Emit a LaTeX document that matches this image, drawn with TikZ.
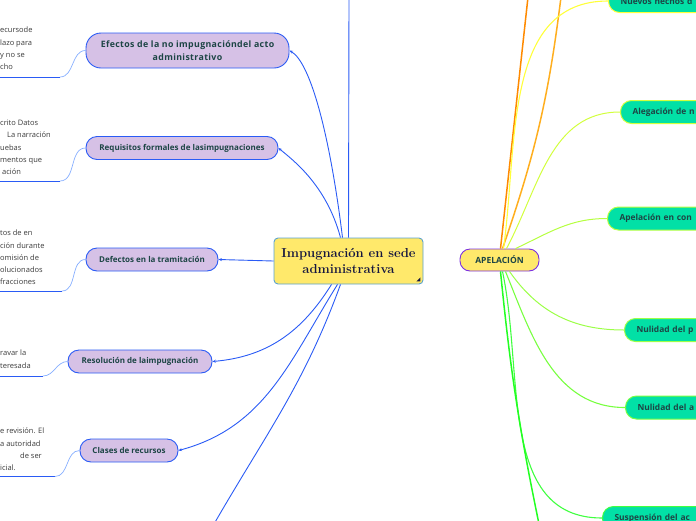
\documentclass[tikz,border=0pt]{standalone}
\usepackage{fontspec}
\newfontfamily\osans{Open Sans}
\newfontfamily\osanswide[LetterSpace=4]{Open Sans}
\usepackage{tikz}
\usetikzlibrary{arrows.meta,positioning}
\definecolor{rootfill}{HTML}{FFE96B}
\definecolor{rootline}{HTML}{5AA2CF}
\definecolor{rootink}{HTML}{15163F}
\definecolor{topicfill}{HTML}{D6C1E6}
\definecolor{linkblue}{HTML}{2A5BF5}
\definecolor{softblue}{HTML}{86AEFF}
\definecolor{inkteal}{HTML}{1D4545}
\definecolor{noteink}{HTML}{3A3A3A}
\definecolor{apeline}{HTML}{7B2FE0}
\definecolor{leaffill}{HTML}{02E0A6}
\definecolor{orangeA}{HTML}{FF8A00}
\definecolor{orangeB}{HTML}{FFAE1E}
\definecolor{yellowA}{HTML}{FFFF3A}
\definecolor{limeA}{HTML}{D2FF3C}
\definecolor{limeB}{HTML}{B6FF40}
\definecolor{greenA}{HTML}{9CFF48}
\definecolor{greenB}{HTML}{78FF40}
\definecolor{greenC}{HTML}{40FF40}
\definecolor{greenD}{HTML}{22FF22}

\begin{document}
\begin{tikzpicture}[x=1pt, y=-1pt,
  root/.style={draw=rootline, fill=rootfill, line width=0.9pt, rounded corners=4pt,
    minimum width=149pt, minimum height=46pt, align=center, text=rootink,
    font=\bfseries\fontsize{13}{16}\selectfont},
  topic/.style={draw=linkblue, fill=topicfill, line width=0.9pt, rounded corners=11pt,
    minimum height=23pt, align=center, text=inkteal, font=\osans\bfseries\fontsize{8}{11}\selectfont},
  apel/.style={draw=apeline, fill=rootfill, line width=0.9pt, rounded corners=10pt,
    minimum width=79pt, minimum height=22pt, text=inkteal, font=\osans\bfseries\fontsize{8.5}{9}\selectfont},
  leaf/.style={fill=leaffill, line width=1pt, rounded corners=11pt, minimum height=23pt,
    anchor=west, text width=110pt, inner xsep=12pt, align=left, text=inkteal,
    font=\osans\bfseries\fontsize{8.4}{9}\selectfont},
  note/.style={anchor=north west, inner sep=0pt, align=left, text=noteink,
    font=\osans\fontsize{7.5}{12.2}\selectfont},
  link/.style={draw=linkblue, line width=0.9pt},
  tip/.style={-{Stealth[length=3.5pt,width=3pt]}},
  uline/.style={draw=linkblue, line width=1pt},
  twig/.style={draw=softblue, line width=0.7pt},
  stem/.style={line width=1.5pt},
  ]
\useasboundingbox (0,0) rectangle (696,520);
\clip (0,0) rectangle (696,520);

% central topic
\node[root] (impug) at (348.5,261) {Impugnación en sede\\administrativa};
\fill[rootink] ([shift={(-3,-3)}]impug.south east) -- ++(-4,0) -- ++(4,-4) -- cycle;

% left branches
\node[topic, minimum width=203pt, minimum height=35pt, rounded corners=15pt, font=\osanswide\bfseries\fontsize{8.8}{13}\selectfont]
  (efectos) at (187.5,50.5) {Efectos de la no impugnacióndel acto\\administrativo};
\node[topic, minimum width=192pt] (requisitos) at (182,148) {Requisitos formales de lasimpugnaciones};
\node[topic, minimum width=132pt] (defectos) at (152,259.5) {Defectos en la tramitación};
\node[topic, minimum width=144pt] (resolucion) at (140,361.5) {Resolución de laimpugnación};
\node[topic, minimum width=98pt] (clases) at (129,450.5) {Clases de recursos};

\coordinate (upnode) at (349,-5);
\coordinate (downnode) at (214,524);

\draw[link, tip] ([xshift=-6]impug.north) to[out=97, in=-30, out distance=100pt, in distance=25pt] (efectos.east);
\draw[link, tip] ([xshift=-8]impug.north) to[out=105, in=-40, out distance=55pt, in distance=18pt] (requisitos.east);
\draw[link] (impug.north) -- (upnode);
\draw[link, tip] (impug.west) -- (defectos.east);
\draw[link, tip] ([xshift=-17]impug.south) to[out=-122, in=5] (resolucion.east);
\draw[link, tip] ([xshift=-11]impug.south) to[out=-122, in=15] (clases.east);
\draw[link] ([xshift=-8]impug.south) to[out=-110, in=60] (downnode);

% notes under the left topics
\node[note] (n1) at (0,27) {ecursode\\lazo para\\y no se\\cho};
\node[note] (n2) at (0,120) {crito Datos\\\hspace*{7pt}La narración\\uebas\\mentos que\\\hspace*{2pt}ación};
\node[note] (n3) at (0,230) {tos de en\\ción durante\\omisión de\\olucionados\\fracciones};
\node[note] (n4) at (0,350) {ravar la\\teresada};
\node[note] (n5) at (0,428) {e revisión. El\\a autoridad\\\hspace*{20pt}de ser\\icial.};

\coordinate (u1s) at (-10,77);  \coordinate (u1) at (60,77);
\coordinate (u2s) at (-10,181); \coordinate (u2) at (60,181);
\coordinate (u3s) at (-10,291); \coordinate (u3) at (62,291);
\coordinate (u4s) at (-10,376); \coordinate (u4) at (43,376);
\coordinate (u5s) at (-10,476.5); \coordinate (u5) at (55,476.5);

\draw[uline] (u1s) -- (u1);
\draw[uline] (u2s) -- (u2);
\draw[uline] (u3s) -- (u3);
\draw[uline] (u4s) -- (u4);
\draw[uline] (u5s) -- (u5);
\draw[twig] (u1) to[out=0, in=180] (efectos.west);
\draw[twig] (u2) to[out=0, in=180] (requisitos.west);
\draw[twig] (u3) to[out=0, in=180] (defectos.west);
\draw[twig] (u4) to[out=0, in=180] (resolucion.west);
\draw[twig] (u5) to[out=0, in=180] (clases.west);

% APELACION
\node[apel] (apelacion) at (499.5,260) {APELACIÓN};

\node[leaf, draw=yellowA] (nuevos) at (608,1) {Nuevos hechos d};
\node[leaf, draw=limeA] (alegacion) at (620,112) {Alegación de n};
\node[leaf, draw=limeB] (apelcon) at (607,218.5) {Apelación en con};
\node[leaf, draw=greenA] (nulidadp) at (624,330) {Nulidad del p};
\node[leaf, draw=greenB] (nulidada) at (625,407.5) {Nulidad del a};
\node[leaf, draw=greenC] (suspension) at (602,518) {Suspensión del ac};

\coordinate (offa) at (528,-3);
\coordinate (offb) at (561,-3);
\coordinate (offc) at (539,524);

\draw[stem, draw=orangeA] ([xshift=1]apelacion.north) -- (offa);
\draw[stem, draw=orangeB] ([xshift=3]apelacion.north) to[bend right=6] (offb);
\draw[draw=yellowA, line width=1.1pt] ([xshift=4]apelacion.north) to[out=82, in=180] (nuevos.west);
\draw[draw=limeA, line width=1pt] ([xshift=7]apelacion.north) to[out=62, in=180] (alegacion.west);
\draw[draw=limeB, line width=1pt] ([xshift=16]apelacion.north) to[out=25, in=180] (apelcon.west);
\draw[draw=greenA, line width=1pt] ([xshift=10]apelacion.south) to[out=-55, in=180] (nulidadp.west);
\draw[draw=greenB, line width=1.1pt] ([xshift=6]apelacion.south) to[out=-68, in=180] (nulidada.west);
\draw[draw=greenC, line width=1.1pt] ([xshift=3]apelacion.south) to[out=-78, in=180] (suspension.west);
\draw[stem, draw=greenD] ([xshift=1]apelacion.south) to[bend right=3] (offc);
\end{tikzpicture}
\end{document}
